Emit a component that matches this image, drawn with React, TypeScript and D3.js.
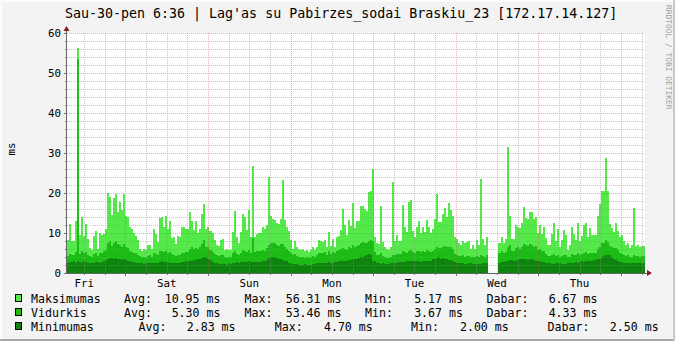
import React from "react";
import * as d3 from "d3";

// ---------- text ----------
const TITLE = "Sau-30-pen 6:36 | Lag'as su Pabirzes_sodai Braskiu_23 [172.17.14.127]";
const Y_UNIT = "ms";
const WATERMARK = "RRDTOOL / TOBI OETIKER";
const DAY_LABELS = ["Fri", "Sat", "Sun", "Mon", "Tue", "Wed", "Thu"];
const Y_TICKS = [0, 10, 20, 30, 40, 50, 60];

// ---------- time base ----------
const START = new Date(2015, 0, 23, 7, 0);
const STEP_MIN = 35;

// ---------- series (one value per 35‑minute step) ----------
const maxValues: (number | null)[] = [
  8.2, 12.2, 8, 8, 12.9, 56.31, 9.5, 13.9, 9.2, 12.3,
  8.5, 6.2, 5.8, 9.2, 10.6, 6.1, 9.9, 9.6, 9.7, 11,
  20, 19, 14.4, 18.7, 19.7, 15.3, 17.8, 15.75, 19.7, 14.25,
  14, 11.4, 10.9, 9.9, 9.25, 8.25, 6.1, 5.6, 6.1, 5.75,
  6.9, 6.9, 5.9, 10.9, 9.75, 7.75, 13.75, 14, 11.4, 14.2,
  11, 13, 8.8, 9, 7.2, 9.2, 9, 11.6, 11.6, 10.9,
  11, 15.2, 13, 10.75, 13, 9.9, 10.9, 14.7, 17.2, 10.9,
  11.4, 10.4, 10.1, 8.25, 7.1, 6.75, 8.3, 8.4, 5.75, 5.9,
  5.75, 5.75, 10.25, 15.6, 8.9, 7.6, 10.25, 14.75, 13.9, 10.75,
  15.75, 9, 26.75, 9, 9.75, 9.9, 9.9, 11.4, 10.9, 12,
  23.9, 14.2, 13.4, 13.25, 12.4, 12.25, 13.6, 23.25, 13.25, 11.4,
  10.6, 8.25, 5.9, 8.1, 6.6, 5.9, 5.75, 5.9, 5.4, 5.75,
  5.25, 5.75, 6.4, 5.75, 6.4, 8.25, 8.1, 7.75, 8.25, 6.6,
  10.25, 6.75, 8.6, 6.6, 9, 9.25, 10.75, 16, 12.1, 9.4,
  13.25, 11.75, 17.4, 11.25, 13, 13, 16.75, 16.75, 16, 15.6,
  20.25, 20.5, 26, 8.9, 7.4, 7.25, 16.75, 7.75, 6.4, 6.1,
  5.75, 6.6, 22.75, 7.9, 9.4, 7.9, 7.9, 16.9, 11.6, 10.25,
  17.75, 18.25, 10.4, 9, 11.4, 13, 10, 11.6, 10.25, 13.25,
  11.4, 9.9, 11.1, 13.4, 19.75, 12.75, 12.75, 14.75, 16.25, 13.9,
  17.5, 15.75, 14.25, 9, 8.4, 7.4, 7.1, 8.1, 7.6, 7.75,
  7.9, 5.9, 6.9, 5.9, 8.25, 6.9, 23.4, 8.4, 7.1, 8.9,
  null, null, null, null, null, 7.6, 8.9, 7.4, 8.4, 31.6,
  14.25, 8.6, 8.6, 12.1, 11.6, 11.25, 12.6, 16.4, 13.75, 13.4,
  15.25, 15.25, 13.6, 14.1, 10, 11.9, 9.75, 11.4, 8.75, 6.9,
  6.9, 9.75, 12.4, 8.1, 10.9, 6.4, 8.25, 10.75, 9.4, 5.75,
  6.9, 11.4, 9.75, 8.25, 12.4, 8.1, 9.25, 11.9, 12.4, 9.1,
  11.25, 9.4, 9.6, 9.4, 14.25, 17.25, 20.6, 20.6, 28.75, 20.6,
  12.25, 11.25, 10.25, 12.4, 10.4, 8.9, 9.6, 7.9, 6.9, 7.6,
  6.25, 7.1, 16.25, 6.75, 7.1, 6.4, 6.75, 6.67,
];

const avgValues: (number | null)[] = [
  4.2, 4.8, 4.5, 4.6, 5.2,
  53.46,
  4.8, 5.5, 4.9, 5.3, 4.6, 4.2, 4.0, 4.8, 5.0, 4.3, 4.9, 5.1, 5.4,
  5.8, 7.6, 7.9, 6.8, 7.4, 8.0, 7.2, 7.0, 6.6, 7.3, 6.5, 6.2, 5.6,
  5.3, 5.0, 5.1, 4.6, 4.2, 3.9, 4.1, 3.8, 4.3, 4.4, 4.0, 4.9, 4.7, 4.4, 5.5,
  5.6, 5.2, 5.5, 5.0, 5.3, 4.7, 4.6, 4.3, 4.6, 4.5, 5.0, 5.1, 5.3, 5.2,
  6.0, 6.4, 5.9, 6.2, 6.0, 6.5, 7.2, 8.2, 6.6, 6.4, 5.8, 5.2,
  4.8, 4.4, 4.2, 4.6, 4.5, 3.9, 3.8, 3.9, 4.0,
  4.9, 5.6, 4.8, 4.6, 5.1, 5.7, 5.5, 5.2, 5.8, 5.0, 8.8, 5.3, 5.4, 5.5,
  5.4, 5.8, 5.6, 6.2, 7.0, 7.4, 7.6, 7.5, 7.0, 6.8, 7.2, 7.3, 6.6, 6.0, 5.6,
  5.0, 4.4, 4.7, 4.3, 4.0, 3.9, 4.1, 3.8, 3.9, 3.7, 4.0, 4.3, 4.1, 4.4,
  5.0, 5.1, 4.9, 5.2, 4.6, 5.6, 4.8, 5.2, 4.9, 5.5, 5.7, 5.9, 6.3, 6.0, 5.7, 6.4, 6.2, 7.0,
  6.6, 6.8, 7.0, 7.6, 7.8, 7.4, 7.6, 8.1, 8.3, 8.0,
  5.2, 4.6, 4.4, 5.0, 4.3, 4.0, 3.8, 3.7, 3.9, 4.6, 4.4, 4.7, 4.8,
  4.8, 5.4, 5.2, 5.0, 5.6, 5.8, 5.3, 5.1, 5.4, 5.6, 5.2, 5.5, 5.3, 5.7, 5.4, 5.2,
  5.6, 6.0, 6.6, 6.3, 6.2, 6.5, 6.8, 6.4, 6.6, 6.4, 6.0,
  4.8, 4.5, 4.3, 4.2, 4.4, 4.1, 4.2, 4.3, 3.9, 4.0, 3.9, 4.2, 4.0, 4.6, 4.3, 4.1, 4.4,
  null, null, null, null, null,
  5.0, 5.4, 5.1, 5.3, 6.4, 6.9, 5.6, 5.4,
  6.2, 6.4, 6.1, 6.5, 7.2, 7.0, 6.8, 7.3, 7.1, 6.6, 6.8, 5.8, 6.0, 5.4, 5.6,
  4.8, 4.3, 4.2, 4.5, 4.7, 4.3, 4.5, 4.0, 4.3, 4.6, 4.4, 3.9, 4.1, 4.8, 4.6, 4.5, 4.9, 4.6, 4.7, 5.0, 5.2, 4.8, 5.1, 4.9, 5.0, 5.1,
  6.0, 6.6, 7.4, 7.6, 8.3, 7.8, 6.8, 6.4, 6.2, 6.3, 5.8,
  5.0, 4.8, 4.5, 4.2, 4.4, 4.0, 4.1, 4.6, 4.2, 4.3, 4.1, 4.3, 4.33,
];

const minValues: (number | null)[] = [
  2.5, 2.7, 2.8, 2.9, 2.6, 3.0, 2.7, 2.6, 2.9, 2.8, 2.6, 2.5, 2.4, 2.6, 2.8, 2.7, 2.6, 2.8, 3.1, 3.3, 3.5, 3.7, 3.8, 3.6,
  3.7, 3.5, 3.6, 3.3, 3.4, 3.2, 3.0, 2.9, 2.8, 2.7, 2.6, 2.5, 2.5, 2.4, 2.3, 2.4, 2.5, 2.6, 2.6, 2.4, 2.5, 2.6, 2.8, 2.9,
  2.8, 2.7, 2.7, 2.6, 2.5, 2.6, 2.4, 2.5, 2.6, 2.7, 2.8, 2.9, 3.0, 2.9, 3.1, 3.2, 3.3, 3.4, 3.5, 3.7, 3.9, 4.0, 3.4, 3.2,
  2.8, 2.6, 2.4, 2.3, 2.3, 2.2, 2.2, 2.1, 2.4, 2.3, 2.6, 2.5, 2.7, 2.6, 2.8, 2.7, 2.7, 2.8, 2.9, 2.8, 2.8, 2.7, 2.7, 2.8,
  2.8, 2.9, 3.1, 3.3, 3.7, 3.9, 4.0, 4.1, 3.7, 3.5, 3.4, 3.3, 3.0, 2.9, 2.6, 2.5, 2.3, 2.2, 2.2, 2.1, 2.1, 2.0, 2.2, 2.1,
  2.0, 2.1, 2.2, 2.3, 2.4, 2.5, 2.6, 2.5, 2.5, 2.6, 2.7, 2.6, 2.6, 2.7, 2.8, 2.9, 2.9, 3.0, 3.0, 3.1, 3.2, 3.3, 3.4, 3.5,
  3.6, 3.7, 3.9, 4.0, 4.3, 4.5, 4.7, 4.6, 3.1, 2.9, 2.6, 2.5, 2.3, 2.4, 2.2, 2.3, 2.3, 2.4, 2.5, 2.6, 2.6, 2.7, 2.7, 2.8,
  2.8, 2.9, 3.0, 3.1, 2.9, 3.0, 3.0, 2.9, 2.8, 2.9, 2.9, 3.0, 3.0, 3.1, 3.4, 3.5, 3.8, 3.9, 3.6, 3.7, 3.5, 3.4, 3.3, 3.2,
  3.0, 2.8, 2.6, 2.5, 2.4, 2.4, 2.3, 2.3, 2.4, 2.5, 2.3, 2.2, 2.2, 2.3, 2.3, 2.4, 2.5, 2.4, null, null, null, null, null, 2.6,
  2.8, 2.7, 2.9, 3.0, 3.3, 3.2, 3.0, 3.1, 3.3, 3.4, 3.5, 3.6, 3.4, 3.3, 3.5, 3.4, 3.2, 3.1, 3.0, 2.9, 2.8, 2.7, 2.6, 2.5,
  2.4, 2.3, 2.3, 2.4, 2.5, 2.4, 2.3, 2.2, 2.3, 2.4, 2.5, 2.6, 2.6, 2.7, 2.6, 2.8, 2.9, 2.8, 2.9, 3.0, 3.0, 3.1, 3.2, 3.3,
  3.4, 3.6, 3.9, 4.2, 4.4, 4.6, 4.5, 4.1, 3.6, 3.2, 3.0, 2.8, 2.7, 2.6, 2.6, 2.5, 2.5, 2.4, 2.5, 2.6, 2.5, 2.4, 2.5, 2.5,
];

// ---------- legend ----------
const seriesNames = ["Maksimumas", "Vidurkis", "Minimumas"];
const seriesColors = ["#55E84A", "#1CBA14", "#0E830E"];
const statAvg = ["10.95 ms", "5.30 ms", "2.83 ms"];
const statMax = ["56.31 ms", "53.46 ms", "4.70 ms"];
const statMin = ["5.17 ms", "3.67 ms", "2.00 ms"];
const statCur = ["6.67 ms", "4.33 ms", "2.50 ms"];

// ---------- layout ----------
const W = 675;
const H = 341;
const PL = 67;
const PR = 645;
const PT = 33;
const PB = 273;
const MONO = "'DejaVu Sans Mono', monospace";

const END = new Date(START.getTime() + 7 * 24 * 3600 * 1000);
const x = d3.scaleTime().domain([START, END]).range([PL, PR]);
const y = d3.scaleLinear().domain([0, 60]).range([PB, PT]);

type Pt = { t: Date; v: number | null };
function stepPoints(vals: (number | null)[]): Pt[] {
  const pts: Pt[] = [];
  vals.forEach((v, i) => {
    const t0 = new Date(START.getTime() + i * STEP_MIN * 60000);
    const t1 = new Date(START.getTime() + (i + 1) * STEP_MIN * 60000);
    pts.push({ t: t0, v }, { t: t1 > END ? END : t1, v });
  });
  return pts;
}

const area = d3
  .area<Pt>()
  .defined((d) => d.v != null)
  .x((d) => x(d.t))
  .y0(y(0))
  .y1((d) => y(d.v as number));

export default function App() {
  const series = [maxValues, avgValues, minValues];

  const sixHours = d3.timeHour.every(6)!.range(START, END);
  const midnight0 = d3.timeDay.floor(START);
  const dayNoons = DAY_LABELS.map((_, k) => d3.timeHour.offset(d3.timeDay.offset(midnight0, k), 12));

  const hGrid = d3.range(2, 61, 2);

  const legendRows = [
    { yb: 302.5, cols: [124, 220.5, 244.5, 341.5, 365, 463, 486.5, 597.5] },
    { yb: 316.5, cols: [124, 220.5, 244.5, 341.5, 365, 463, 486.5, 597.5] },
    { yb: 330.5, cols: [138.6, 235.6, 274.7, 372.8, 411, 508.8, 547.6, 658.7] },
  ];

  return (
    <div style={{ position: "fixed", left: 0, top: 0, width: W, height: H }}>
      <svg width={W} height={H} viewBox={`0 0 ${W} ${H}`} style={{ display: "block" }}>
        {/* background + shaded frame */}
        <rect x={0} y={0} width={W} height={H} fill="#F3F3F3" />
        <rect x={0} y={0} width={W} height={2} fill="#FCFCFC" />
        <rect x={0} y={0} width={2} height={H} fill="#FCFCFC" />
        <rect x={0} y={H - 2} width={W} height={2} fill="#A8A8A8" />
        <rect x={W - 2} y={0} width={2} height={H} fill="#C8C8C8" />

        {/* canvas */}
        <rect x={PL} y={PT} width={PR - PL} height={PB - PT} fill="#FFFFFF" />

        {/* data areas */}
        <g shapeRendering="crispEdges">
          {series.map((vals, k) => (
            <path key={k} d={area(stepPoints(vals)) || ""} fill={seriesColors[k]} />
          ))}
        </g>

        {/* grid */}
        <g shapeRendering="crispEdges" strokeWidth={1} strokeDasharray="1,1">
          {hGrid.map((v) => (
            <line
              key={"h" + v}
              x1={PL}
              x2={PR}
              y1={Math.round(y(v)) + 0.5}
              y2={Math.round(y(v)) + 0.5}
              stroke={v % 10 === 0 ? "#D05050" : "#8F8F8F"}
              strokeOpacity={v % 10 === 0 ? 0.45 : 0.5}
            />
          ))}
          {sixHours.map((t) => {
            const major = t.getHours() === 0;
            const xx = Math.round(x(t)) + 0.5;
            if (xx <= PL + 1) return null;
            return (
              <line
                key={"v" + t.getTime()}
                x1={xx}
                x2={xx}
                y1={PT}
                y2={PB}
                stroke={major ? "#D05050" : "#8F8F8F"}
                strokeOpacity={major ? 0.45 : 0.5}
              />
            );
          })}
        </g>

        {/* ticks */}
        <g shapeRendering="crispEdges" stroke="#777">
          {hGrid.map((v) => (
            <line key={"yt" + v} x1={PL - (v % 10 === 0 ? 3 : 2)} x2={PL} y1={Math.round(y(v)) + 0.5} y2={Math.round(y(v)) + 0.5} />
          ))}
          <line x1={PL - 3} x2={PL} y1={PB + 0.5} y2={PB + 0.5} />
          {sixHours.map((t) => {
            const xx = Math.round(x(t)) + 0.5;
            if (xx <= PL + 1) return null;
            return <line key={"xt" + t.getTime()} x1={xx} x2={xx} y1={PB} y2={PB + (t.getHours() === 0 ? 3 : 2)} />;
          })}
        </g>

        {/* axes */}
        <g shapeRendering="crispEdges">
          <line x1={PL - 0.5} x2={PL - 0.5} y1={30} y2={PB + 1} stroke="#666" />
          <line x1={PL - 1} x2={648} y1={PB + 0.5} y2={PB + 0.5} stroke="#666" />
        </g>
        <path d={`M${PL - 3.5},${31} L${PL + 2.5},${31} L${PL - 0.5},${26} Z`} fill="#8B1A1A" />
        <path d={`M${647},${270} L${647},${276} L${652},${273} Z`} fill="#8B1A1A" />

        {/* y labels */}
        <g fontFamily={MONO} fontSize={10.8} fill="#000" textAnchor="end">
          {Y_TICKS.map((v) => (
            <text key={v} x={61} y={y(v) + 4}>
              {v}
            </text>
          ))}
        </g>
        {/* x labels */}
        <g fontFamily={MONO} fontSize={10.8} fill="#000" textAnchor="middle">
          {DAY_LABELS.map((d, k) => (
            <text key={d} x={x(dayNoons[k])} y={286.5}>
              {d}
            </text>
          ))}
        </g>

        {/* unit label */}
        <text
          fontFamily={MONO}
          fontSize={10.8}
          textAnchor="middle"
          transform={`translate(15,${149}) rotate(-90)`}
        >
          {Y_UNIT}
        </text>

        {/* title */}
        <text x={65} y={18} fontFamily={MONO} fontSize={13.3} fill="#000">
          {TITLE}
        </text>

        {/* watermark */}
        <text
          fontFamily={MONO}
          fontSize={7.9}
          fill="#A0A0A0"
          transform={`translate(666,5) rotate(90)`}
        >
          {WATERMARK}
        </text>

        {/* legend */}
        <g fontFamily={MONO} fontSize={11.6} fill="#000">
          {seriesNames.map((name, k) => {
            const r = legendRows[k];
            const c = r.cols;
            return (
              <g key={name}>
                <rect x={15.5} y={r.yb - 8.5} width={6} height={7} fill={seriesColors[k]} stroke="#000" shapeRendering="crispEdges" />
                <text x={31} y={r.yb}>{name}</text>
                <text x={c[0]} y={r.yb}>Avg:</text>
                <text x={c[1]} y={r.yb} textAnchor="end">{statAvg[k]}</text>
                <text x={c[2]} y={r.yb}>Max:</text>
                <text x={c[3]} y={r.yb} textAnchor="end">{statMax[k]}</text>
                <text x={c[4]} y={r.yb}>Min:</text>
                <text x={c[5]} y={r.yb} textAnchor="end">{statMin[k]}</text>
                <text x={c[6]} y={r.yb}>Dabar:</text>
                <text x={c[7]} y={r.yb} textAnchor="end">{statCur[k]}</text>
              </g>
            );
          })}
        </g>
      </svg>
    </div>
  );
}
